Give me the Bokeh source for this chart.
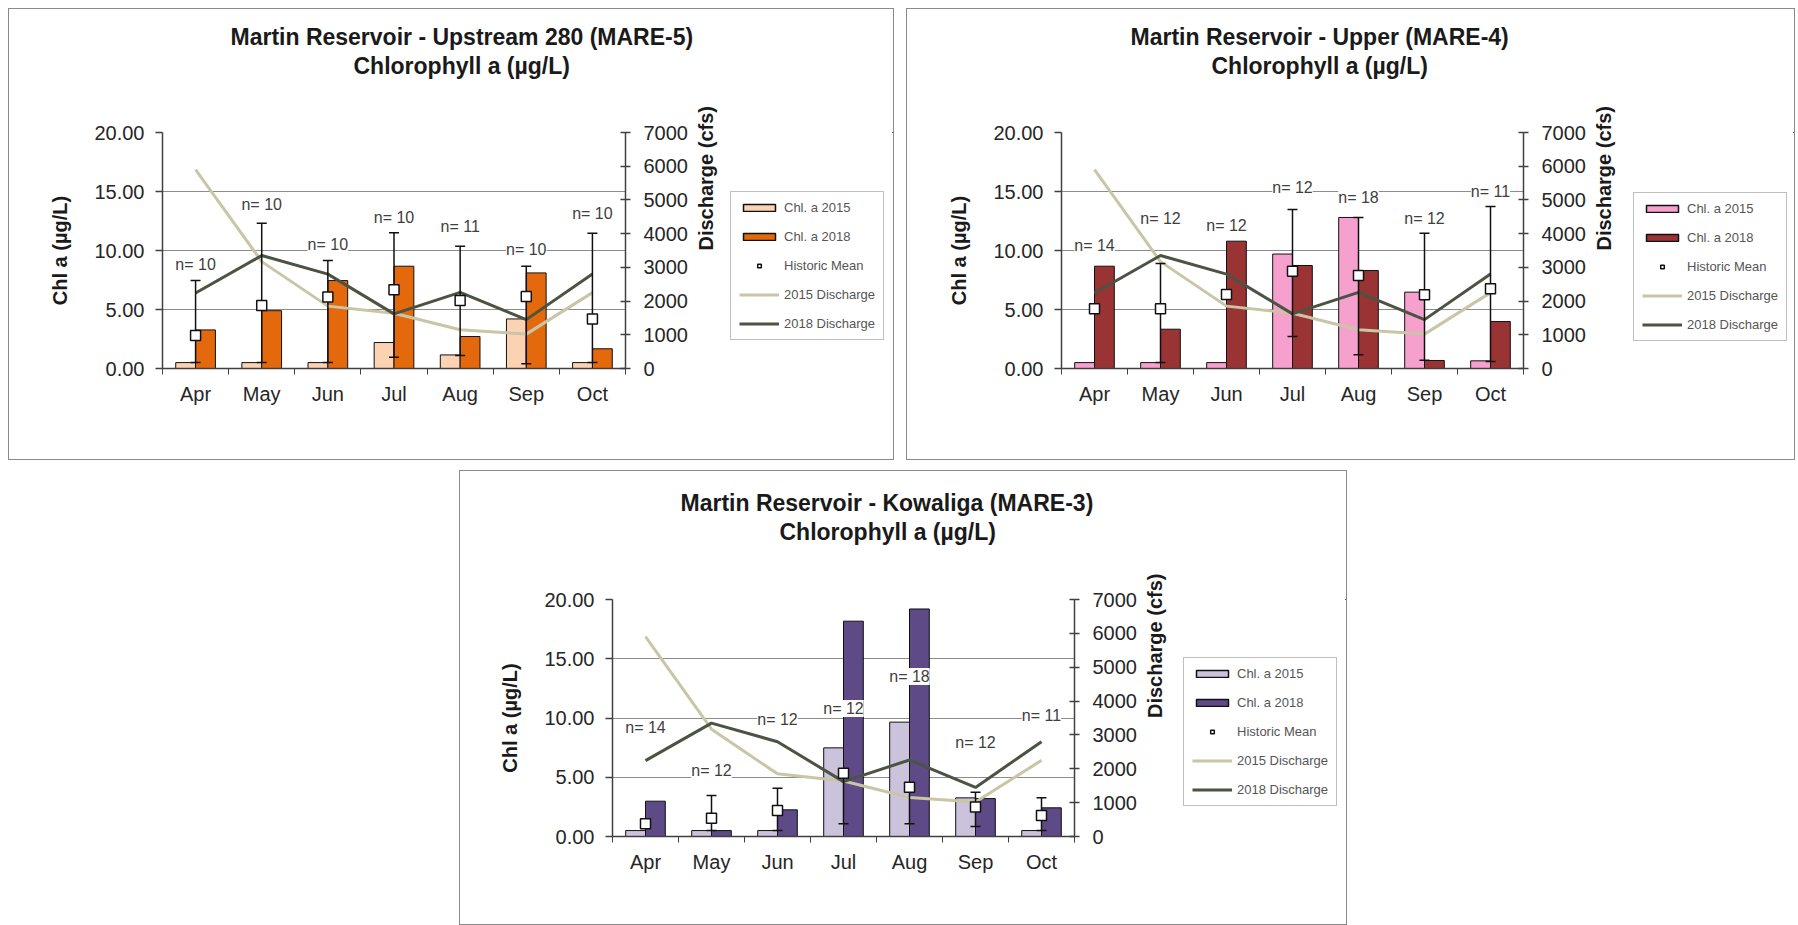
import math
import numpy as np
from bokeh.plotting import figure
from bokeh.models import (Range1d, LinearAxis, FixedTicker, NumeralTickFormatter, ColumnDataSource,
                          Legend, LegendItem, LabelSet, Title, Spacer)
from bokeh.layouts import row, column
from bokeh.core.properties import value
from bokeh.embed import file_html
from bokeh.resources import INLINE

# ---------------- data ----------------
months = ["Apr", "May", "Jun", "Jul", "Aug", "Sep", "Oct"]
discharge_2015 = [5900, 3170, 1850, 1640, 1150, 1020, 2250]
discharge_2018 = [2240, 3350, 2800, 1620, 2260, 1450, 2800]

# MARE-5 (Upstream 280)
mare5_chl_2015 = [0.5, 0.5, 0.5, 2.2, 1.15, 4.2, 0.5]
mare5_chl_2018 = [3.27, 4.9, 7.45, 8.67, 2.71, 8.1, 1.67]
mare5_hist = [2.8, 5.34, 6.05, 6.67, 5.76, 6.1, 4.2]
mare5_hi = [7.46, 12.3, 9.15, 11.5, 10.37, 8.67, 11.47]
mare5_lo = [0.5, 0.5, 0.5, 0.96, 1.1, 0.4, 0.5]
mare5_n = [10, 10, 10, 10, 11, 10, 10]
mare5_n_y = [8.8, 13.9, 10.5, 12.8, 12.0, 10.1, 13.1]

# MARE-4 (Upper)
mare4_chl_2015 = [0.5, 0.5, 0.5, 9.7, 12.8, 6.47, 0.65]
mare4_chl_2018 = [8.67, 3.33, 10.79, 8.73, 8.3, 0.68, 3.98]
mare4_hist = [5.06, 5.06, 6.27, 8.25, 7.88, 6.24, 6.75]
mare4_hi = [None, 8.9, None, 13.47, 12.8, 11.47, 13.73]
mare4_lo = [None, 0.5, None, 2.71, 1.16, 0.7, 0.6]
mare4_n = [14, 12, 12, 12, 18, 12, 11]
mare4_n_y = [10.4, 12.7, 12.15, 15.3, 14.5, 12.7, 15.0]

# MARE-3 (Kowaliga)
mare3_chl_2015 = [0.5, 0.5, 0.5, 7.48, 9.65, 3.26, 0.5]
mare3_chl_2018 = [2.98, 0.5, 2.25, 18.17, 19.2, 3.2, 2.42]
mare3_hist = [1.07, 1.55, 2.19, 5.34, 4.16, 2.48, 1.77]
mare3_hi = [None, 3.46, 4.08, 5.34, 4.16, 3.74, 3.26]
mare3_lo = [None, 0.5, 0.5, 1.07, 1.07, 0.84, 0.5]
mare3_n = [14, 12, 12, 12, 18, 12, 11]
mare3_n_y = [9.2, 5.6, 9.85, 10.8, 13.5, 7.9, 10.2]

legend_labels = ["Chl. a 2015", "Chl. a 2018", "Historic Mean", "2015 Discharge", "2018 Discharge"]

FONT = "Liberation Sans"
Q2015_COLOR = "#c8c6a6"
Q2018_COLOR = "#4b5443"
EDGE = "#111111"


def draw_series(fig, src, c15, c18, bar_lw):
    """Bars, discharge lines and historic-mean markers; returns the renderers."""
    b15 = fig.vbar(x="x15", top="c15", width=0.3, source=src, fill_color=c15,
                   line_color=EDGE, line_width=bar_lw)
    b18 = fig.vbar(x="x18", top="c18", width=0.3, source=src, fill_color=c18,
                   line_color=EDGE, line_width=bar_lw)
    l15 = fig.line(x="x", y="q15", source=src, y_range_name="q", line_color=Q2015_COLOR, line_width=3)
    l18 = fig.line(x="x", y="q18", source=src, y_range_name="q", line_color=Q2018_COLOR, line_width=3)
    return b15, b18, l15, l18


def make_panel(title1, chl15, chl18, hist, hi, lo, n, n_y, c15, c18,
               fw, fh, bl, br, bt, bb, off1, off2, gap, leg_w, leg_loc):
    p = figure(frame_width=fw, frame_height=fh, output_backend="svg", toolbar_location=None,
               x_range=Range1d(0, len(months)), y_range=Range1d(0, 20),
               min_border_left=bl, min_border_right=br, min_border_top=bt, min_border_bottom=bb,
               background_fill_color="white", border_fill_color="white")
    p.extra_y_ranges = {"q": Range1d(0, 7000)}
    p.outline_line_color = None

    xs = np.arange(len(months)) + 0.5
    src = ColumnDataSource(dict(x=xs, x15=xs - 0.15, x18=xs + 0.15, c15=chl15, c18=chl18,
                                hist=hist, q15=discharge_2015, q18=discharge_2018))

    # grid & axes
    p.xgrid.visible = False
    p.ygrid.ticker = FixedTicker(ticks=[5, 10, 15, 20])
    p.ygrid.grid_line_color = "#8c8c8c"
    p.ygrid.grid_line_width = 1

    ax = p.xaxis[0]
    ax.ticker = FixedTicker(ticks=list(xs), minor_ticks=list(range(len(months) + 1)))
    ax.major_label_overrides = {float(x): m for x, m in zip(xs, months)}
    ax.major_tick_out = 0
    ax.major_tick_in = 0
    ax.minor_tick_out = 6
    ax.minor_tick_in = 0
    ax.minor_tick_line_color = "#404040"
    ax.major_label_standoff = 8

    ay = p.yaxis[0]
    ay.ticker = FixedTicker(ticks=[0, 5, 10, 15, 20])
    ay.formatter = NumeralTickFormatter(format="0.00")
    ay.major_tick_out = 7
    ay.major_tick_in = 0
    ay.minor_tick_out = 0
    ay.minor_tick_in = 0
    ay.major_label_standoff = 11
    ay.axis_label = "Chl a (µg/L)"
    ay.axis_label_standoff = 20

    ar = LinearAxis(y_range_name="q", ticker=FixedTicker(ticks=list(range(0, 7001, 1000))),
                    axis_label="Discharge (cfs)")
    ar.major_tick_out = 5
    ar.major_tick_in = 5
    ar.minor_tick_out = 0
    ar.minor_tick_in = 0
    ar.major_label_standoff = 13
    ar.axis_label_standoff = 15
    ar.axis_label_orientation = math.pi / 2
    p.add_layout(ar, "right")

    for a in (ax, ay, ar):
        a.axis_line_color = "#404040"
        a.axis_line_width = 1.5
        a.major_tick_line_color = "#404040"
        a.major_tick_line_width = 1.5
        a.major_label_text_font = FONT
        a.major_label_text_font_size = "20px"
        a.major_label_text_color = "#262626"
        a.axis_label_text_font = FONT
        a.axis_label_text_font_size = "20px"
        a.axis_label_text_font_style = "bold"
        a.axis_label_text_color = "#1a1a1a"

    draw_series(p, src, c15, c18, 1)

    # error bars
    ex = [x for x, h in zip(xs, hi) if h is not None]
    ehi = [h for h in hi if h is not None]
    elo = [l for l in lo if l is not None]
    p.segment(x0=ex, y0=elo, x1=ex, y1=ehi, line_color=EDGE, line_width=1.5)
    p.scatter(ex, ehi, marker="dash", size=10, line_color=EDGE, line_width=1.5)
    p.scatter(ex, elo, marker="dash", size=10, line_color=EDGE, line_width=1.5)

    # historic mean
    p.scatter(x="x", y="hist", source=src, marker="square", size=10, fill_color="white",
              line_color=EDGE, line_width=1.5)

    # n labels
    nsrc = ColumnDataSource(dict(x=xs, y=n_y, t=["n= %d" % v for v in n]))
    p.add_layout(LabelSet(x="x", y="y", text="t", source=nsrc, text_align="center",
                          text_baseline="middle", text_font=value(FONT), text_font_size="16px",
                          text_color="#404040", background_fill_color="white"))

    # titles: stacked outward from the frame (spacer, line 2, line 1)
    p.add_layout(Title(text=" ", text_font=FONT, text_font_size="2px", standoff=gap), "above")
    p.add_layout(Title(text="Chlorophyll a (µg/L)", align="left", offset=off2, standoff=0,
                       text_font=FONT, text_font_size="23px", text_font_style="bold",
                       text_color="#1a1a1a"), "above")
    p.add_layout(Title(text=title1, align="left", offset=off1, standoff=2,
                       text_font=FONT, text_font_size="23px", text_font_style="bold",
                       text_color="#1a1a1a"), "above")

    # legend panel: a small plot beside the chart; the same series are drawn there
    # outside its visible ranges, and the legend sits inside its frame
    total_h = bt + fh + bb
    q = figure(width=leg_w, height=total_h, output_backend="svg", toolbar_location=None,
               x_range=Range1d(-1000, -999), y_range=Range1d(-1000, -999), min_border=0,
               x_axis_location=None, y_axis_location=None,
               background_fill_color="white", border_fill_color="white")
    q.extra_y_ranges = {"q": Range1d(-1000, -999)}
    q.outline_line_color = None
    q.grid.visible = False
    g15, g18, gl15, gl18 = draw_series(q, src, c15, c18, 1.5)
    ghm = q.scatter(x="x", y="hist", source=src, marker="square", size=8, fill_color="white",
                    line_color=EDGE, line_width=1.5)
    legend = Legend(items=[LegendItem(label=t, renderers=[r]) for t, r in
                           zip(legend_labels, [g15, g18, ghm, gl15, gl18])],
                    location=leg_loc, orientation="vertical")
    legend.border_line_color = "#808080"
    legend.border_line_width = 1
    legend.background_fill_color = "white"
    legend.background_fill_alpha = 1
    legend.label_text_font = FONT
    legend.label_text_font_size = "13px"
    legend.label_text_color = "#555555"
    legend.glyph_width = 40
    legend.glyph_height = 9
    legend.label_height = 14
    legend.label_standoff = 5
    legend.spacing = 14
    legend.padding = 8
    legend.margin = 0
    q.add_layout(legend)
    return column(row(p, q), styles={"border": "1px solid #8a8a8a"})


w1 = make_panel("Martin Reservoir - Upstream 280 (MARE-5)", mare5_chl_2015, mare5_chl_2018,
                mare5_hist, mare5_hi, mare5_lo, mare5_n, mare5_n_y, "#fbd3b3", "#e4690c",
                463, 236, 153, 105, 123, 91, 68, 191, 50, 163, (0, 28))
w2 = make_panel("Martin Reservoir - Upper (MARE-4)", mare4_chl_2015, mare4_chl_2018,
                mare4_hist, mare4_hi, mare4_lo, mare4_n, mare4_n_y, "#f5a0cd", "#9a3334",
                462, 236, 154, 105, 123, 91, 69, 150, 50, 166, (5, 27))
w3 = make_panel("Martin Reservoir - Kowaliga (MARE-3)", mare3_chl_2015, mare3_chl_2018,
                mare3_hist, mare3_hi, mare3_lo, mare3_n, mare3_n_y, "#cbc2dc", "#5e4a86",
                462, 237, 152, 105, 128, 88, 68, 167, 51, 167, (4, 30))

layout = column(Spacer(height=8),
                row(Spacer(width=8), w1, Spacer(width=12), w2),
                Spacer(height=10),
                row(Spacer(width=459), w3))

open("out.html", "w").write(file_html(layout, INLINE))
